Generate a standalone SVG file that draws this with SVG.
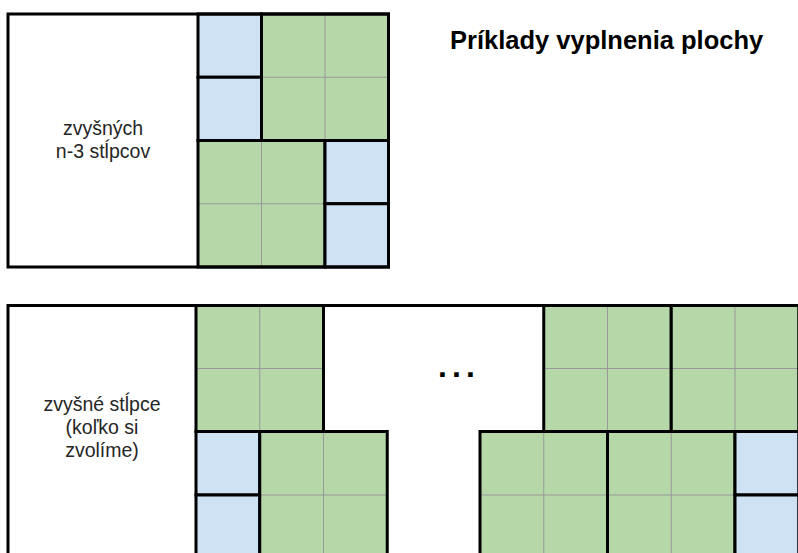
<svg xmlns="http://www.w3.org/2000/svg" width="798" height="553" viewBox="0 0 798 553">
<style>
.bg{fill:#ffffff}
.blue{fill:#cfe2f3}
.green{fill:#b6d7a8}
.grid{stroke:#999999;stroke-width:1;fill:none}
.bd{fill:none;stroke:#000000;stroke-width:3}
.lbl{font-family:"Liberation Sans",Arial,sans-serif;font-size:19.5px;fill:#262626;text-anchor:middle}
.title{font-family:"Liberation Sans",Arial,sans-serif;font-size:25.5px;font-weight:bold;fill:#000000}
.dots{font-family:"Liberation Sans",Arial,sans-serif;font-size:32px;font-weight:bold;fill:#000000;letter-spacing:-1.9px}
</style>
<rect x="0" y="0" width="798" height="553" fill="#ffffff"/>

<g id="top-figure">
  <g id="top-rest">
    <rect class="bg" x="8" y="14" width="190" height="253"/>
    <text class="lbl" x="103" y="135">zvyšných</text>
    <text class="lbl" x="103" y="158">n-3 stĺpcov</text>
  </g>
  <g id="top-blue1"><rect class="blue" x="198" y="14" width="63.5" height="63.25"/><rect class="bd" x="198" y="14" width="63.5" height="63.25"/></g>
  <g id="top-blue2"><rect class="blue" x="198" y="77.25" width="63.5" height="63.25"/><rect class="bd" x="198" y="77.25" width="63.5" height="63.25"/></g>
  <g id="top-green1">
    <rect class="green" x="261.5" y="14" width="127" height="126.5"/>
    <path class="grid" d="M325 14V140.5M261.5 77.25H388.5"/>
    <rect class="bd" x="261.5" y="14" width="127" height="126.5"/>
  </g>
  <g id="top-green2">
    <rect class="green" x="198" y="140.5" width="127" height="126.5"/>
    <path class="grid" d="M261.5 140.5V267M198 203.75H325"/>
    <rect class="bd" x="198" y="140.5" width="127" height="126.5"/>
  </g>
  <g id="top-blue3"><rect class="blue" x="325" y="140.5" width="63.5" height="63.25"/><rect class="bd" x="325" y="140.5" width="63.5" height="63.25"/></g>
  <g id="top-blue4"><rect class="blue" x="325" y="203.75" width="63.5" height="63.25"/><rect class="bd" x="325" y="203.75" width="63.5" height="63.25"/></g>
  <rect id="top-outline" class="bd" x="8" y="14" width="380.5" height="253"/>
</g>

<g id="title">
  <text class="title" x="450" y="49">Príklady vyplnenia plochy</text>
</g>

<g id="bottom-figure">
  <g id="bottom-rest">
    <text class="lbl" x="102" y="411">zvyšné stĺpce</text>
    <text class="lbl" x="102" y="434">(koľko si</text>
    <text class="lbl" x="102" y="457">zvolíme)</text>
  </g>
  <g id="bl-green1">
    <rect class="green" x="196" y="305.5" width="127.5" height="126"/>
    <path class="grid" d="M259.75 305.5V431.5M196 368.5H323.5"/>
    <rect class="bd" x="196" y="305.5" width="127.5" height="126"/>
  </g>
  <g id="bl-blue1"><rect class="blue" x="196" y="431.5" width="63.75" height="63.5"/><rect class="bd" x="196" y="431.5" width="63.75" height="63.5"/></g>
  <g id="bl-blue2"><rect class="blue" x="196" y="495" width="63.75" height="63.5"/><rect class="bd" x="196" y="495" width="63.75" height="63.5"/></g>
  <g id="bl-green2">
    <rect class="green" x="259.75" y="431.5" width="127.5" height="127"/>
    <path class="grid" d="M323.5 431.5V558.5M259.75 495H387.25"/>
    <rect class="bd" x="259.75" y="431.5" width="127.5" height="127"/>
  </g>
  <g id="ellipsis">
    <text class="dots" x="438" y="376.5">. . .</text>
  </g>
  <g id="br-green1">
    <rect class="green" x="543.75" y="305.5" width="127.5" height="126"/>
    <path class="grid" d="M607.5 305.5V431.5M543.75 368.5H671.25"/>
    <rect class="bd" x="543.75" y="305.5" width="127.5" height="126"/>
  </g>
  <g id="br-green2">
    <rect class="green" x="671.25" y="305.5" width="127.5" height="126"/>
    <path class="grid" d="M735 305.5V431.5M671.25 368.5H798.75"/>
    <rect class="bd" x="671.25" y="305.5" width="127.5" height="126"/>
  </g>
  <g id="br-green3">
    <rect class="green" x="480" y="431.5" width="127.5" height="127"/>
    <path class="grid" d="M543.75 431.5V558.5M480 495H607.5"/>
    <rect class="bd" x="480" y="431.5" width="127.5" height="127"/>
  </g>
  <g id="br-green4">
    <rect class="green" x="607.5" y="431.5" width="127.5" height="127"/>
    <path class="grid" d="M671.25 431.5V558.5M607.5 495H735"/>
    <rect class="bd" x="607.5" y="431.5" width="127.5" height="127"/>
  </g>
  <g id="br-blue1"><rect class="blue" x="735" y="431.5" width="63.75" height="63.5"/><rect class="bd" x="735" y="431.5" width="63.75" height="63.5"/></g>
  <g id="br-blue2"><rect class="blue" x="735" y="495" width="63.75" height="63.5"/><rect class="bd" x="735" y="495" width="63.75" height="63.5"/></g>
  <path id="bottom-outline" class="bd" d="M8 560V305.5H800"/>
</g>
</svg>
